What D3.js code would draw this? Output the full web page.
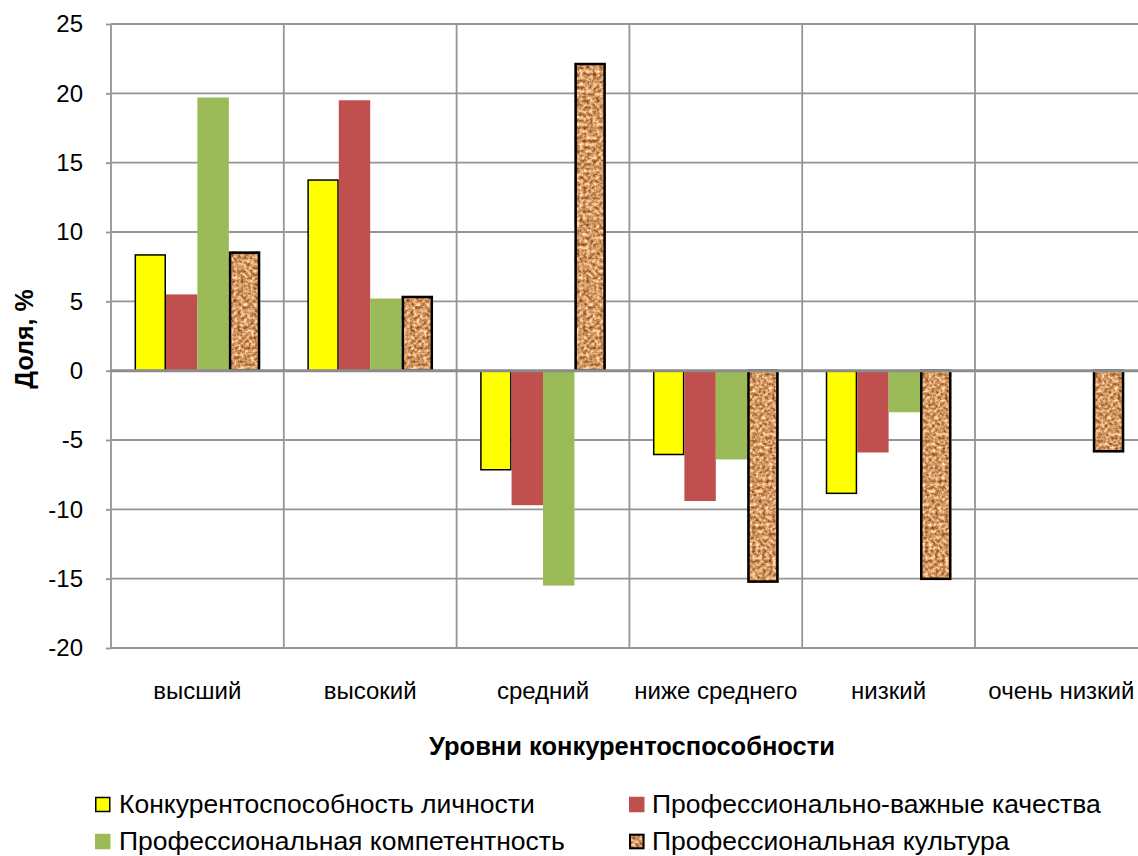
<!DOCTYPE html>
<html>
<head>
<meta charset="utf-8">
<script src="https://cdn.jsdelivr.net/npm/d3@7"></script>
<style>
  html, body { margin: 0; padding: 0; background: #fff; }
  svg { display: block; }
  text { font-family: "Liberation Sans", Arial, sans-serif; fill: #000; }
</style>
</head>
<body>
<svg id="chart" width="1138" height="856"></svg>
<script>
// Уровни конкурентоспособности (категории по оси X)
const categories = ["высший", "высокий", "средний", "ниже среднего", "низкий", "очень низкий"];

// Ряды данных, доля, %
const seriesNames = [
  "Конкурентоспособность личности",
  "Профессионально-важные качества",
  "Профессиональная компетентность",
  "Профессиональная культура"
];
const personality  = [8.4, 13.8, -7.2, -6.1, -8.9, 0];
const qualities    = [5.5, 19.5, -9.7, -9.4, -5.9, 0];
const competence   = [19.7, 5.2, -15.5, -6.4, -3.0, 0];
const culture      = [8.6, 5.4, 22.2, -15.3, -15.1, -5.9];
const seriesValues = [personality, qualities, competence, culture];

const yTicks = [25, 20, 15, 10, 5, 0, -5, -10, -15, -20];

const svg = d3.select("#chart");

// Текстура «пробка» для ряда «Профессиональная культура»
const defs = svg.append("defs");
const cork = defs.append("filter").attr("id", "cork")
  .attr("x", 0).attr("y", 0).attr("width", 1).attr("height", 1)
  .attr("filterUnits", "objectBoundingBox")
  .attr("color-interpolation-filters", "sRGB");
cork.append("feTurbulence")
  .attr("type", "fractalNoise").attr("baseFrequency", 0.3)
  .attr("numOctaves", 3).attr("seed", 11).attr("result", "noise");
cork.append("feColorMatrix").attr("in", "noise").attr("type", "matrix")
  .attr("values", [
    0.85, 0, 0, 0, 0.40,
    1.0,  0, 0, 0, 0.10,
    1.0,  0, 0, 0, -0.10,
    0,    0, 0, 0, 1
  ].join(" "))
  .attr("result", "tint");
cork.append("feComposite").attr("in", "tint").attr("in2", "SourceAlpha").attr("operator", "in");

const plotLeft = 111, plotTop = 24, plotBottom = 648;
const step = 172.8;
const plotRight = plotLeft + step * categories.length;

const x0 = d3.scaleBand().domain(categories).range([plotLeft, plotRight]).paddingInner(0).paddingOuter(0);
const x1 = d3.scaleBand().domain(d3.range(seriesNames.length)).range([0, x0.bandwidth()])
  .paddingInner(0).paddingOuter(0.75);
const y = d3.scaleLinear().domain([-20, 25]).range([plotBottom, plotTop]);

const gridColor = "#959595";

// Горизонтальная сетка
const grid = svg.append("g");
grid.selectAll("line.h").data(yTicks.filter(d => d !== 0)).join("line")
  .attr("x1", plotLeft).attr("x2", plotRight)
  .attr("y1", d => y(d)).attr("y2", d => y(d))
  .attr("stroke", gridColor).attr("stroke-width", 1.8);

// Вертикальная сетка по границам категорий
grid.selectAll("line.v").data(d3.range(categories.length + 1)).join("line")
  .attr("x1", i => plotLeft + i * step).attr("x2", i => plotLeft + i * step)
  .attr("y1", plotTop).attr("y2", plotBottom)
  .attr("stroke", gridColor).attr("stroke-width", 1.8);

// Ось Y
const yAxis = d3.axisLeft(y).tickValues(yTicks).tickSize(5).tickPadding(23)
  .tickFormat(d => String(d));
const gy = svg.append("g").attr("transform", `translate(${plotLeft},0)`).call(yAxis);
gy.select(".domain").remove();
gy.selectAll(".tick line").attr("stroke", gridColor).attr("stroke-width", 1.8);
gy.selectAll(".tick text").attr("font-size", 24)
  .attr("font-family", "Liberation Sans, Arial, sans-serif").attr("fill", "#000");

// Столбцы
const colors = ["#ffff00", "#c0504d", "#9bbb59", "#cc8f5a"];
const groups = svg.append("g").selectAll("g").data(categories).join("g")
  .attr("transform", d => `translate(${x0(d)},0)`);

groups.each(function(cat, ci) {
  const g = d3.select(this);
  seriesValues.forEach((vals, si) => {
    const v = vals[ci];
    if (v === 0) return;
    const bx = x1(si), bw = x1.bandwidth();
    const by = y(Math.max(0, v)), bh = Math.abs(y(v) - y(0));
    if (si === 3) {
      g.append("rect").attr("x", bx).attr("y", by).attr("width", bw).attr("height", bh)
        .attr("fill", colors[si]).attr("filter", "url(#cork)");
      g.append("rect").attr("x", bx + 1.25).attr("y", by + (v > 0 ? 1.25 : 0))
        .attr("width", bw - 2.5).attr("height", bh - 1.25)
        .attr("fill", "none").attr("stroke", "#000").attr("stroke-width", 2.5);
    } else if (si === 0) {
      g.append("rect").attr("x", bx + 0.75).attr("y", by + (v > 0 ? 0.75 : 0))
        .attr("width", bw - 1.5).attr("height", bh - 0.75)
        .attr("fill", colors[si]).attr("stroke", "#000").attr("stroke-width", 1.5);
    } else {
      g.append("rect").attr("x", bx).attr("y", by).attr("width", bw).attr("height", bh)
        .attr("fill", colors[si]);
    }
  });
});

// Нулевая линия
svg.append("line").attr("x1", plotLeft).attr("x2", plotRight)
  .attr("y1", y(0)).attr("y2", y(0))
  .attr("stroke", "#8c8c8c").attr("stroke-width", 3);

// Подписи категорий
svg.append("g").selectAll("text").data(categories).join("text")
  .attr("x", d => x0(d) + x0.bandwidth() / 2)
  .attr("y", 699)
  .attr("text-anchor", "middle").attr("font-size", 24)
  .text(d => d);

// Заголовки осей
svg.append("text").attr("x", 632).attr("y", 755)
  .attr("text-anchor", "middle").attr("font-size", 25.5).attr("font-weight", "bold")
  .text("Уровни конкурентоспособности");
svg.append("text")
  .attr("transform", "translate(33,339) rotate(-90)")
  .attr("text-anchor", "middle").attr("font-size", 25).attr("font-weight", "bold")
  .text("Доля, %");

// Легенда
const legendPos = [
  { mx: 95, tx: 119, cy: 804.5 },
  { mx: 629, tx: 652, cy: 804.5 },
  { mx: 95, tx: 119, cy: 841.5 },
  { mx: 629, tx: 652, cy: 841.5 }
];
const legend = svg.append("g");
seriesNames.forEach((name, i) => {
  const p = legendPos[i];
  const s = 15.5;
  if (i === 3) {
    legend.append("rect").attr("x", p.mx).attr("y", p.cy - s / 2).attr("width", s).attr("height", s)
      .attr("fill", colors[i]).attr("filter", "url(#cork)");
    legend.append("rect").attr("x", p.mx + 1).attr("y", p.cy - s / 2 + 1).attr("width", s - 2).attr("height", s - 2)
      .attr("fill", "none").attr("stroke", "#000").attr("stroke-width", 2);
  } else if (i === 0) {
    legend.append("rect").attr("x", p.mx + 0.75).attr("y", p.cy - s / 2 + 0.75).attr("width", s - 1.5).attr("height", s - 1.5)
      .attr("fill", colors[i]).attr("stroke", "#000").attr("stroke-width", 1.5);
  } else {
    legend.append("rect").attr("x", p.mx).attr("y", p.cy - s / 2).attr("width", s).attr("height", s)
      .attr("fill", colors[i]);
  }
  legend.append("text").attr("x", p.tx).attr("y", p.cy + 8).attr("font-size", 26.5).text(name);
});
</script>
</body>
</html>
